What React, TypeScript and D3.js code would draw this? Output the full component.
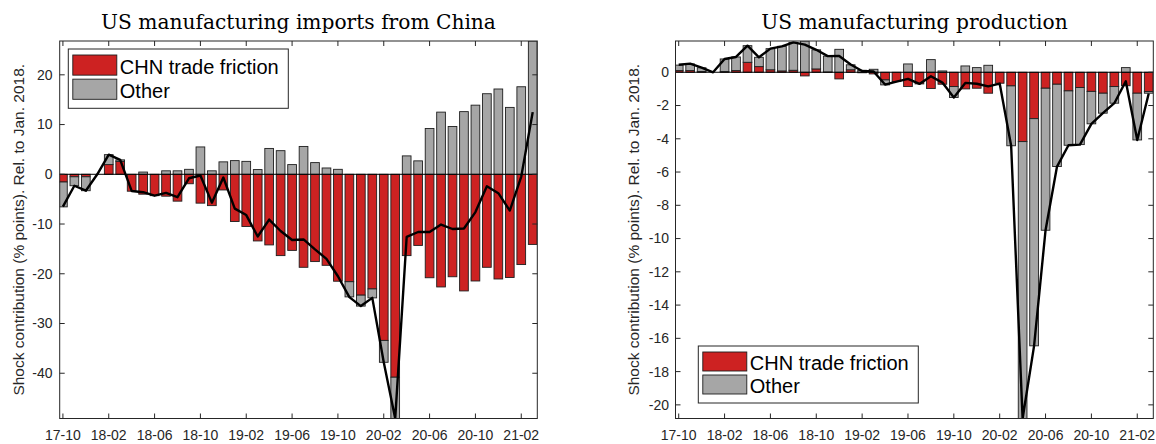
import React from "react";
import * as d3 from "d3";

const periods = [
  "17-10", "17-11", "17-12",
  "18-01", "18-02", "18-03", "18-04", "18-05", "18-06", "18-07", "18-08", "18-09", "18-10", "18-11", "18-12",
  "19-01", "19-02", "19-03", "19-04", "19-05", "19-06", "19-07", "19-08", "19-09", "19-10", "19-11", "19-12",
  "20-01", "20-02", "20-03", "20-04", "20-05", "20-06", "20-07", "20-08", "20-09", "20-10", "20-11", "20-12",
  "21-01", "21-02", "21-03",
];

const xTickLabels = ["17-10", "18-02", "18-06", "18-10", "19-02", "19-06", "19-10", "20-02", "20-06", "20-10", "21-02"];

const legendLabels = ["CHN trade friction", "Other"];

// Left panel: US manufacturing imports from China
const importsChn = [
  -1.55, -0.5, -0.5, 0, 1.95, 2.6, -3.4, -4.0, -4.3, -4.4, -5.4, -1.9, -5.8, -6.3, -3.15,
  -9.5, -10.5, -13.4, -14.2, -16.35, -15.3, -18.7, -17.55, -18.3, -21.5, -21.6, -24.3,
  -23.05, -33.4, -40.8, -16.35, -14.3, -20.8, -22.65, -20.6, -23.45, -21.45, -18.7, -21.05,
  -20.75, -18.15, -14.1,
];
const importsOther = [
  -5.0, -1.8, -2.8, 0, 2.0, 0.3, 0, 0.45, 0, 0.7, 0.7, 1.0, 5.5, 0.7, 2.5,
  2.75, 2.6, 0.95, 5.2, 4.75, 1.95, 5.6, 2.35, 1.27, 1.0, -3.05, -2.2,
  -1.8, -4.4, -8.3, 3.7, 2.7, 9.2, 12.5, 9.6, 12.6, 13.9, 16.2, 17.15,
  13.45, 17.6, 26.8,
];
const importsTotal = [
  -6.5, -2.3, -3.3, 0, 3.95, 2.9, -3.35, -3.6, -4.3, -3.75, -4.6, -0.8, -0.25, -5.7, -0.65,
  -6.9, -8.2, -12.5, -9.1, -11.4, -13.2, -13.1, -15.1, -17.0, -20.5, -24.7, -26.5,
  -24.85, -37.8, -49.1, -12.6, -11.6, -11.6, -10.1, -11.0, -10.9, -7.6, -2.4, -3.8,
  -7.3, -0.45, 12.5,
];
const importsYTicks = [-40, -30, -20, -10, 0, 10, 20];
const importsYDomain = [-49.1, 26.8];

// Right panel: US manufacturing production
const prodChn = [
  0.1, 0.1, 0.05, 0, 0.05, 0.1, 0.6, 0.34, 0.15, 0.08, 0.12, -0.22, 0.2, 0.02, -0.4,
  0.15, -0.03, -0.1, -0.46, -0.56, -0.86, -0.7, -0.98, -0.72, -0.86, -1.0, -0.96,
  -1.26, -0.66, -0.82, -4.17, -2.79, -0.96, -0.72, -1.12, -0.92, -1.15, -1.26, -0.86,
  -0.81, -1.26, -1.16,
];
const prodOther = [
  0.33, 0.4, 0.22, 0, 0.75, 0.82, 1.0, 0.56, 1.27, 1.48, 1.68, 1.88, 1.15, 0.95, 1.38,
  0.3, 0.12, 0.18, -0.3, 0, 0.5, 0, 0.76, 0.08, -0.66, 0.38, 0.28,
  0.42, 0, -3.6, -16.65, -13.66, -8.54, -4.95, -3.27, -3.43, -1.95, -1.2, -1.0,
  0.28, -2.81, -0.1,
];
const prodTotal = [
  0.45, 0.52, 0.28, 0, 0.8, 0.92, 1.6, 0.9, 1.42, 1.56, 1.8, 1.66, 1.35, 0.97, 0.98,
  0.47, 0.08, 0.05, -0.74, -0.56, -0.4, -0.7, -0.24, -0.62, -1.52, -0.64, -0.69,
  -0.85, -0.68, -4.42, -20.82, -16.45, -9.5, -5.67, -4.39, -4.35, -3.1, -2.46, -1.86,
  -0.54, -4.07, -1.28,
];
const prodYTicks = [-20, -18, -16, -14, -12, -10, -8, -6, -4, -2, 0];
const prodYDomain = [-20.82, 1.88];

const RED = "#cd2222";
const GRAY = "#a6a6a6";
const AXIS = "#262626";
const SANS = "'Liberation Sans', Arial, Helvetica, sans-serif";
const SERIF = "'DejaVu Serif', serif";

type Frame = { left: number; right: number; top: number; bottom: number };
type Legend = { x: number; y: number; w: number; h: number };

type PanelProps = {
  id: string;
  title: string;
  red: number[];
  gray: number[];
  total: number[];
  yDomain: number[];
  yTicks: number[];
  frame: Frame;
  legend: Legend;
  yLabelX: number;
  yTickX: number;
};

function Panel(p: PanelProps) {
  const { frame } = p;
  const x = d3.scaleLinear().domain([-0.28, 41.4]).range([frame.left, frame.right]);
  const y = d3.scaleLinear().domain(p.yDomain).range([frame.bottom, frame.top]);
  const rows = periods.map((per, i) => ({ period: per, red: p.red[i], gray: p.gray[i] }));
  const series = d3
    .stack<any>()
    .keys(["red", "gray"])
    .offset(d3.stackOffsetDiverging)(rows);
  const step = x(1) - x(0);
  const bw = step * 0.76;
  const line = d3
    .line<number>()
    .x((_, i) => x(i))
    .y((d) => y(d));
  const colors = [RED, GRAY];
  const tickLen = 5;
  const xTicks = xTickLabels.map((l) => ({ label: l, i: periods.indexOf(l) }));
  const lg = p.legend;
  const midY = (frame.top + frame.bottom) / 2;
  const rowH = (lg.h - 12) / 2;

  return (
    <g>
      <defs>
        <clipPath id={`clip-${p.id}`}>
          <rect x={frame.left} y={frame.top} width={frame.right - frame.left} height={frame.bottom - frame.top} />
        </clipPath>
      </defs>
      <text
        x={(frame.left + frame.right) / 2}
        y={29}
        textAnchor="middle"
        fontFamily={SERIF}
        fontSize={20.2}
        fill="#000"
      >
        {p.title}
      </text>
      <g clipPath={`url(#clip-${p.id})`}>
        {series.map((s, si) =>
          s.map((d, i) => {
            const y0 = y(d[0]);
            const y1 = y(d[1]);
            const h = Math.abs(y1 - y0);
            if (h < 0.01) return null;
            return (
              <rect
                key={`${si}-${i}`}
                x={x(i) - bw / 2}
                y={Math.min(y0, y1)}
                width={bw}
                height={h}
                fill={colors[si]}
                stroke="#1e1e1e"
                strokeWidth={0.9}
              />
            );
          })
        )}
        <line x1={frame.left} x2={frame.right} y1={y(0)} y2={y(0)} stroke="#000" strokeWidth={1} />
        <path d={line(p.total) || ""} fill="none" stroke="#000" strokeWidth={2.4} strokeLinejoin="round" />
      </g>
      <rect
        x={frame.left}
        y={frame.top}
        width={frame.right - frame.left}
        height={frame.bottom - frame.top}
        fill="none"
        stroke={AXIS}
        strokeWidth={1}
      />
      {xTicks.map((t) => (
        <g key={t.label}>
          <line x1={x(t.i)} x2={x(t.i)} y1={frame.bottom} y2={frame.bottom - tickLen} stroke={AXIS} />
          <line x1={x(t.i)} x2={x(t.i)} y1={frame.top} y2={frame.top + tickLen} stroke={AXIS} />
          <text x={x(t.i)} y={440} textAnchor="middle" fontFamily={SANS} fontSize={14} fill={AXIS}>
            {t.label}
          </text>
        </g>
      ))}
      {p.yTicks.map((v) => (
        <g key={v}>
          <line x1={frame.left} x2={frame.left + tickLen} y1={y(v)} y2={y(v)} stroke={AXIS} />
          <line x1={frame.right} x2={frame.right - tickLen} y1={y(v)} y2={y(v)} stroke={AXIS} />
          <text
            x={p.yTickX}
            y={y(v)}
            dy="0.35em"
            textAnchor="end"
            fontFamily={SANS}
            fontSize={14}
            fill={AXIS}
          >
            {v}
          </text>
        </g>
      ))}
      <text
        transform={`translate(${p.yLabelX},${midY}) rotate(-90)`}
        textAnchor="middle"
        fontFamily={SANS}
        fontSize={15.5}
        fill={AXIS}
      >
        Shock contribution (% points). Rel. to Jan. 2018.
      </text>
      <rect x={lg.x} y={lg.y} width={lg.w} height={lg.h} fill="#fff" stroke={AXIS} strokeWidth={1} />
      {legendLabels.map((l, k) => {
        const top = lg.y + 6 + k * (rowH + 0.5);
        return (
          <g key={l}>
            <rect
              x={lg.x + 4.5}
              y={top}
              width={44}
              height={rowH - 3.5}
              fill={colors[k]}
              stroke="#1e1e1e"
              strokeWidth={0.9}
            />
            <text x={lg.x + 51.5} y={top + rowH - 4.5} fontFamily={SANS} fontSize={20} fill="#000">
              {l}
            </text>
          </g>
        );
      })}
    </g>
  );
}

export default function App() {
  return (
    <svg width={1156} height={444} style={{ position: "absolute", left: 0, top: 0, background: "#fff" }}>
      <rect x={0} y={0} width={1156} height={444} fill="#fff" />
      <Panel
        id="imports"
        title="US manufacturing imports from China"
        red={importsChn}
        gray={importsOther}
        total={importsTotal}
        yDomain={importsYDomain}
        yTicks={importsYTicks}
        frame={{ left: 59.7, right: 537.3, top: 41, bottom: 418.5 }}
        legend={{ x: 68.3, y: 49, w: 220, h: 59.3 }}
        yLabelX={23.5}
        yTickX={52.5}
      />
      <Panel
        id="prod"
        title="US manufacturing production"
        red={prodChn}
        gray={prodOther}
        total={prodTotal}
        yDomain={prodYDomain}
        yTicks={prodYTicks}
        frame={{ left: 675.5, right: 1153.3, top: 41, bottom: 418.5 }}
        legend={{ x: 698.3, y: 346, w: 220, h: 57 }}
        yLabelX={638.5}
        yTickX={669}
      />
    </svg>
  );
}
